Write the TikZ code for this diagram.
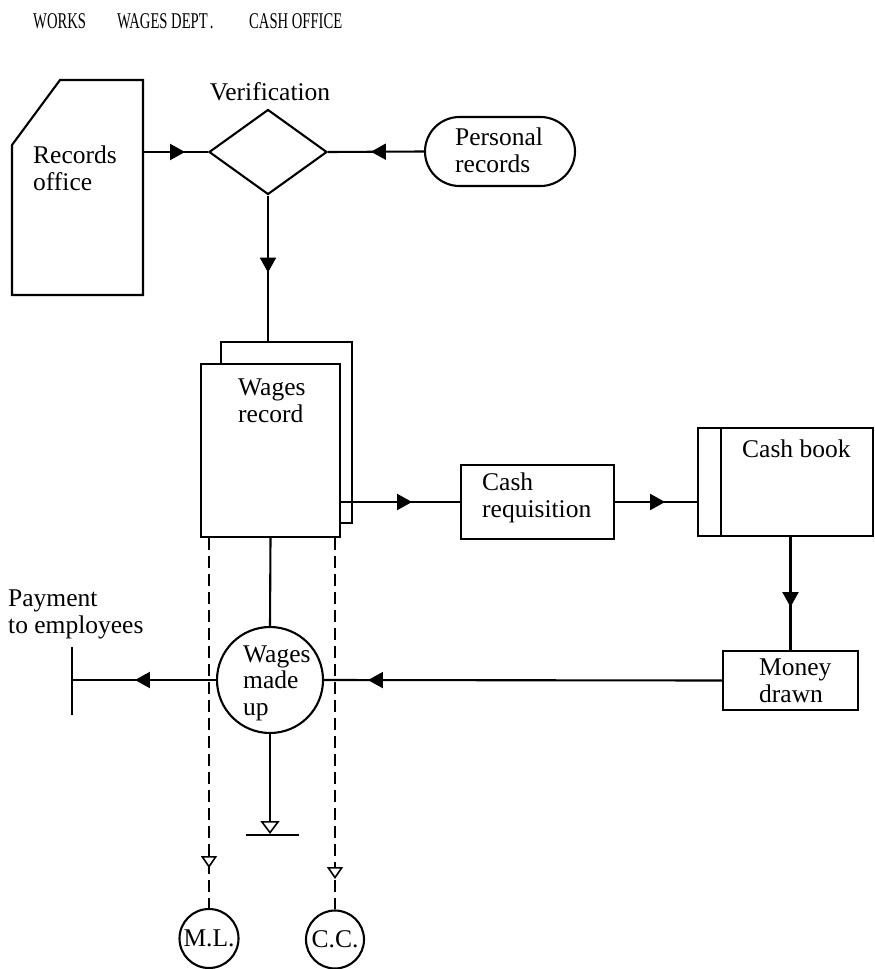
\documentclass[tikz,border=0pt]{standalone}
\usepackage{fontspec}
\setmainfont{Liberation Serif}
\newfontfamily\headfont[FakeStretch=0.65]{Liberation Serif}
\usetikzlibrary{arrows.meta,decorations.markings,shapes.geometric,shapes.misc}

\tikzset{
  ln/.style={line width=2.1pt},
  shp/.style={draw, line width=2.1pt, inner sep=0pt, fill=white},
  % multi-line labels are placed by the baseline of their last line
  txt/.style={inner sep=0pt, font=\fontsize{25.5}{26.5}\selectfont, align=left, anchor=base west},
  hdr/.style={inner sep=0pt, font=\headfont\fontsize{22.5}{22.5}\selectfont, anchor=base west},
  solidhead/.style={postaction={decorate}, decoration={markings,
      mark=at position #1 with {\arrow{Triangle[length=15pt,width=16pt]}}}},
  openhead/.style={postaction={decorate}, decoration={markings,
      mark=at position #1 with {\arrow{Triangle[length=12pt,width=16pt,fill=white,line width=1.6pt]}}}},
  dashline/.style={line width=1.8pt, dash pattern=on 12pt off 6pt},
}

\begin{document}
\begin{tikzpicture}[x=1pt,y=-1pt]
\useasboundingbox (0,0) rectangle (875,969);

% column headings
\node[hdr] (hWorks) at (33,28) {WORKS};
\node[hdr] (hWages) at (117,28) {WAGES DEPT\kern2pt.};
\node[hdr] (hCash) at (249,28) {CASH OFFICE};

% records office (document with a cut corner)
\draw[ln] (12,295) -- (12,145) -- (60,80) -- (143,80) -- (143,295) -- cycle;
\coordinate (rec) at (143,152);
\node[txt] (recT) at (33,190) {Records\\office};

% verification decision
\node[shp, diamond, minimum width=118pt, minimum height=85pt] (ver) at (268,152) {};
\node[txt, anchor=base] (verT) at (270,100) {Verification};

% personal records terminal
\node[shp, rounded rectangle, minimum width=150pt, minimum height=69pt] (pers) at (500,151.5) {};
\node[txt] (persT) at (455,172) {Personal\\records};

% wages record (two stacked sheets)
\node[shp, minimum width=131pt, minimum height=181pt] (wrb) at (286.5,432.5) {};
\node[shp, minimum width=139pt, minimum height=173pt] (wrf) at (270.5,450.5) {};
\node[txt] (wrT) at (238,422) {Wages\\record};

% cash requisition
\node[shp, minimum width=153pt, minimum height=74pt] (creq) at (537.5,502) {};
\node[txt] (creqT) at (482,517) {Cash\\requisition};

% cash book
\node[shp, minimum width=175pt, minimum height=108pt] (cbook) at (785.5,482) {};
\draw[ln] ([xshift=24pt]cbook.north west) -- ([xshift=24pt]cbook.south west);
\node[txt] (cbookT) at (742,457) {Cash book};

% money drawn
\node[shp, minimum width=135pt, minimum height=59pt] (money) at (790.5,680.5) {};
\node[txt] (moneyT) at (759,702) {Money\\drawn};

% wages made up
\node[shp, circle, minimum size=106pt] (wmu) at (270,680) {};
\node[txt] (wmuT) at (243,715) {Wages\\made\\up};

% payment to employees
\draw[ln] (72,647) -- (72,715);
\coordinate (pay) at (72,680);
\node[txt] (payT) at (8,633) {Payment\\to employees};

% earth symbol
\coordinate (gnd) at (270,834);
\draw[ln] (246,835) -- (299,835);

% connectors
\draw[ln, solidhead=42pt] (rec) -- (ver.west);
\draw[ln, solidhead=53pt] (pers.west) -- (ver.east);
\draw[ln, solidhead=77pt] (ver.south) -- (ver.south |- wrb.north);
\draw[ln, solidhead=71pt] (wrf.east |- creq.west) -- (creq.west);
\draw[ln, solidhead=50pt] (creq.east) -- (cbook.west |- creq.east);
\draw[ln, solidhead=70pt] (money.north |- cbook.south) -- (money.north);
\draw[ln, solidhead=354pt] (money.west) -- (wmu.east);
\draw[ln, solidhead=81pt] (wmu.west) -- (pay);
\draw[ln] (wrf.south) -- (wmu.north);
\draw[ln, -{Triangle[length=13pt,width=19pt,fill=white,line width=1.6pt]}] (wmu.south) -- (gnd);

% M.L. and C.C. connectors
\node[shp, circle, minimum size=59pt, font=\fontsize{25.5}{26.5}\selectfont] (ml) at (209,938.5) {M.L.};
\node[shp, circle, minimum size=58pt, font=\fontsize{25.5}{26.5}\selectfont] (cc) at (335,939.5) {C.C.};
\draw[dashline, openhead=330pt] (wrf.south -| ml.north) -- (ml.north);
\draw[dashline, openhead=341pt] (wrf.south -| cc.north) -- (cc.north);
\end{tikzpicture}
\end{document}
